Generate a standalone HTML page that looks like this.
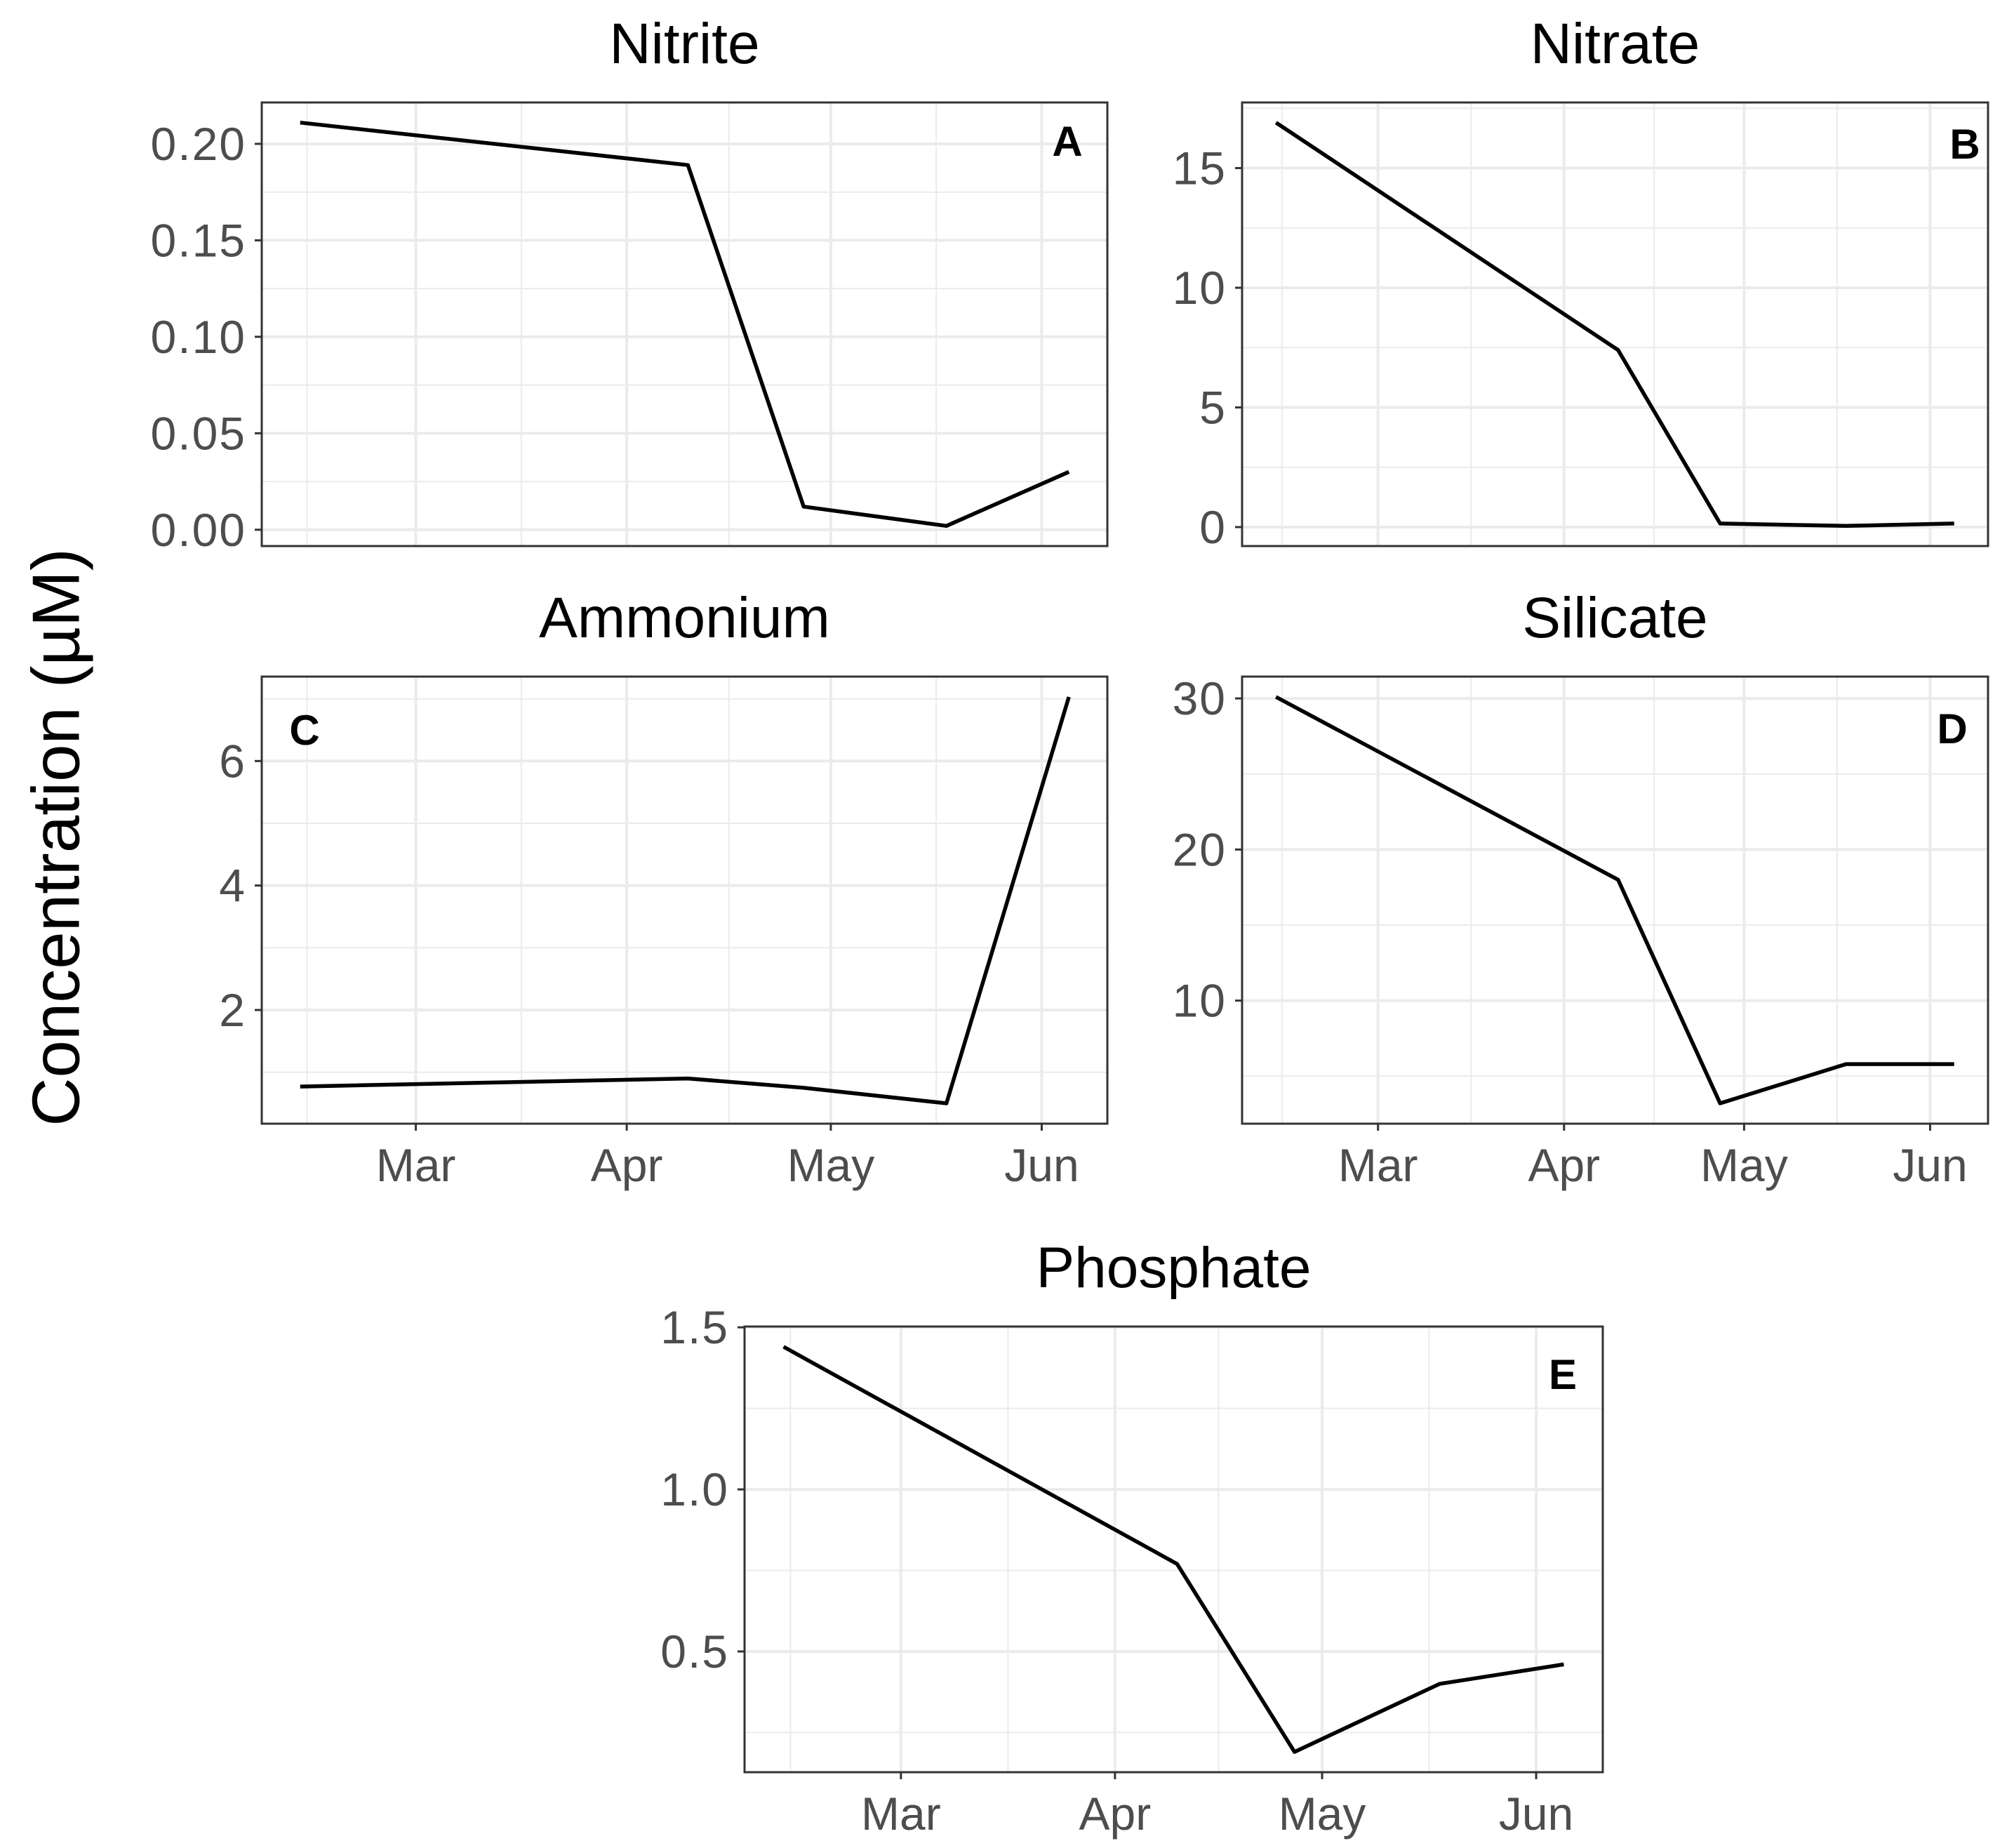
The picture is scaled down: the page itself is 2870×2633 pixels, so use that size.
<!DOCTYPE html>
<html><head><meta charset="utf-8"><style>
html,body{margin:0;padding:0;background:#fff;}
svg{display:block;}
</style></head><body>
<svg id="chart" width="2870" height="2633" viewBox="0 0 2870 2633" xmlns="http://www.w3.org/2000/svg">
<text x="0" y="0" transform="translate(80,1193) rotate(-90)" text-anchor="middle" dominant-baseline="central" font-family="Liberation Sans, sans-serif" font-size="96" fill="#000">Concentration (µM)</text>
</svg>
<script>
// days relative to Mar 1
const sampleDays = [-17, 40, 57, 78, 96];
const nitrite = [0.211, 0.189, 0.012, 0.002, 0.030];
const nitrate = [16.9, 7.4, 0.15, 0.05, 0.15];
const ammonium = [0.77, 0.9, 0.75, 0.5, 7.03];
const silicate = [30.1, 18.0, 3.2, 5.8, 5.8];
const phosphate = [1.44, 0.77, 0.19, 0.40, 0.46];
const monthLabels = ["Mar", "Apr", "May", "Jun"];
const monthDays = [0, 31, 61, 92];
const minorMonthDays = [-16, 15.5, 46, 76.5, 107];
const nitriteTicks = [0, 0.05, 0.10, 0.15, 0.20];
const nitriteTickLabels = ["0.00", "0.05", "0.10", "0.15", "0.20"];
const nitrateTicks = [0, 5, 10, 15];
const ammoniumTicks = [2, 4, 6];
const silicateTicks = [10, 20, 30];
const phosphateTicks = [0.5, 1.0, 1.5];
const phosphateTickLabels = ["0.5", "1.0", "1.5"];

const NS = "http://www.w3.org/2000/svg";
const svg = document.getElementById("chart");
function mk(tag, attrs, parent) {
  const e = document.createElementNS(NS, tag);
  for (const k in attrs) e.setAttribute(k, attrs[k]);
  (parent || svg).appendChild(e);
  return e;
}
function panel(cfg) {
  const g = mk("g", {});
  
  
  const dmin = Math.min(...sampleDays), dmax = Math.max(...sampleDays);
  const dr = dmax - dmin;
  const x0 = dmin - 0.05 * dr, x1 = dmax + 0.05 * dr;
  const vmin = Math.min(...cfg.values), vmax = Math.max(...cfg.values);
  const vr = vmax - vmin;
  const y0 = vmin - 0.05 * vr, y1 = vmax + 0.05 * vr;
  const X = d => cfg.l + (d - x0) / (x1 - x0) * (cfg.r - cfg.l);
  const Y = v => cfg.b - (v - y0) / (y1 - y0) * (cfg.b - cfg.t);
  const step = cfg.ticks.length > 1 ? cfg.ticks[1] - cfg.ticks[0] : 1;
  for (let v = cfg.ticks[0] - step / 2; v <= y1; v += step) {
    if (v < y0) continue;
    const ln = mk("line", {x1: cfg.l, x2: cfg.r, y1: Y(v), y2: Y(v), stroke: "#ebebeb", "stroke-width": 2}, g);
    
    
  }
  minorMonthDays.forEach(d => {
    if (d < x0 || d > x1) return;
    const ln = mk("line", {x1: X(d), x2: X(d), y1: cfg.t, y2: cfg.b, stroke: "#ebebeb", "stroke-width": 2}, g);
    
    
  });
  cfg.ticks.forEach((v, i) => {
    const ln = mk("line", {x1: cfg.l, x2: cfg.r, y1: Y(v), y2: Y(v), stroke: "#ebebeb", "stroke-width": 4}, g);
    
    
    const tk = mk("line", {x1: cfg.l - 10, x2: cfg.l, y1: Y(v), y2: Y(v), stroke: "#333", "stroke-width": 3}, g);
    
    
    const tx = mk("text", {x: cfg.l - 22, y: Y(v) + 23, "text-anchor": "end", "font-family": "Liberation Sans, sans-serif", "font-size": 66, "letter-spacing": 2, fill: "#4d4d4d"}, g);
    tx.textContent = cfg.labels ? cfg.labels[i] : String(v);
    
    
  });
  monthDays.forEach((d, i) => {
    const ln = mk("line", {x1: X(d), x2: X(d), y1: cfg.t, y2: cfg.b, stroke: "#ebebeb", "stroke-width": 4}, g);
    
    
    if (cfg.xlabels) {
      const tk = mk("line", {x1: X(d), x2: X(d), y1: cfg.b, y2: cfg.b + 10, stroke: "#333", "stroke-width": 3}, g);
      
      
      const tx = mk("text", {x: X(d), y: cfg.b + 82, "text-anchor": "middle", "font-family": "Liberation Sans, sans-serif", "font-size": 66, fill: "#4d4d4d"}, g);
      tx.textContent = monthLabels[i];
      
      
    }
  });
  const pts = sampleDays.map((d, i) => X(d).toFixed(1) + "," + Y(cfg.values[i]).toFixed(1)).join(" ");
  const pl = mk("polyline", {points: pts, fill: "none", stroke: "#000", "stroke-width": 5.5, "stroke-linejoin": "round"}, g);
  
  
  const bx = mk("rect", {x: cfg.l, y: cfg.t, width: cfg.r - cfg.l, height: cfg.b - cfg.t, fill: "none", stroke: "#333", "stroke-width": 3}, g);
  
  
  const tt = mk("text", {x: (cfg.l + cfg.r) / 2, y: cfg.t - 56, "text-anchor": "middle", "font-family": "Liberation Sans, sans-serif", "font-size": 82, fill: "#000"}, g);
  tt.textContent = cfg.title;
  
  
  const lb = mk("text", {x: cfg.lx, y: cfg.ly, "text-anchor": "middle", "font-family": "Liberation Sans, sans-serif", "font-weight": "bold", "font-size": 60, fill: "#000"}, g);
  lb.textContent = cfg.letter;
  
  
}
panel({name: "nitrite", title: "Nitrite", letter: "A", l: 373, r: 1578, t: 146, b: 778, values: nitrite, ticks: nitriteTicks, labels: nitriteTickLabels, xlabels: false, lx: 1521, ly: 222});
panel({name: "nitrate", title: "Nitrate", letter: "B", l: 1770, r: 2833, t: 146, b: 778, values: nitrate, ticks: nitrateTicks, xlabels: false, lx: 2800, ly: 226});
panel({name: "ammonium", title: "Ammonium", letter: "C", l: 373, r: 1578, t: 964, b: 1601, values: ammonium, ticks: ammoniumTicks, xlabels: true, lx: 434, ly: 1061});
panel({name: "silicate", title: "Silicate", letter: "D", l: 1770, r: 2833, t: 964, b: 1601, values: silicate, ticks: silicateTicks, xlabels: true, lx: 2782, ly: 1059});
panel({name: "phosphate", title: "Phosphate", letter: "E", l: 1061, r: 2284, t: 1890, b: 2525, values: phosphate, ticks: phosphateTicks, labels: phosphateTickLabels, xlabels: true, lx: 2227, ly: 1979});
</script>
</body></html>
